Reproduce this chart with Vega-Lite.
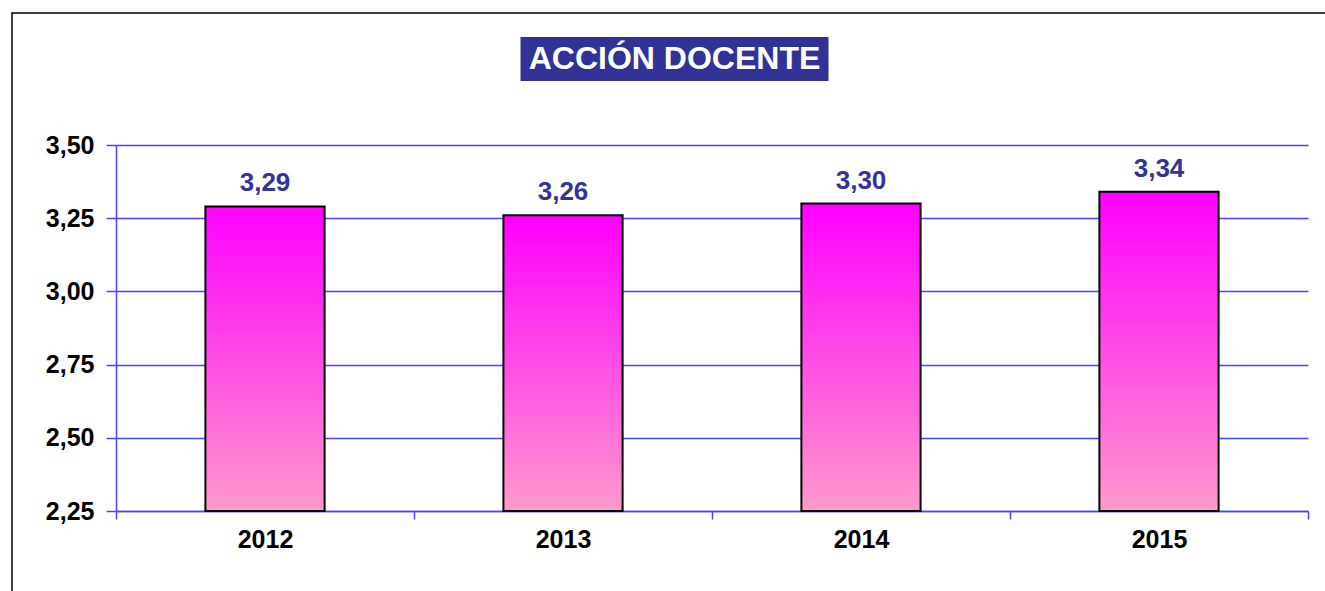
{
  "$schema": "https://vega.github.io/schema/vega-lite/v6.json",
  "width": 1325,
  "height": 580,
  "padding": {"left": 12, "top": 13, "right": 0, "bottom": 0},
  "autosize": {"type": "none"},
  "background": "white",
  "config": {
    "locale": {"number": {"decimal": ",", "thousands": ".", "grouping": [3], "currency": ["", " €"]}},
    "view": {"stroke": "#000000", "strokeWidth": 1.5},
    "font": "Liberation Sans"
  },
  "layer": [
    {
      "data": {"values": [
        {"anio": "2012", "valor": 3.29},
        {"anio": "2013", "valor": 3.26},
        {"anio": "2014", "valor": 3.30},
        {"anio": "2015", "valor": 3.34}
      ]},
      "layer": [
        {
          "mark": {
            "type": "bar",
            "width": {"band": 0.4},
            "fill": {"gradient": "linear", "x1": 0, "y1": 0, "x2": 0, "y2": 1,
              "stops": [{"offset": 0, "color": "#FF00FF"}, {"offset": 1, "color": "#FF99CC"}]},
            "stroke": "#000000",
            "strokeWidth": 2
          },
          "encoding": {
            "x": {
              "field": "anio", "type": "ordinal",
              "scale": {"range": [104, 1296], "paddingInner": 0, "paddingOuter": 0},
              "axis": {
                "title": null, "offset": -82, "grid": false,
                "tickBand": "extent", "tickSize": 8, "tickWidth": 1.5, "tickColor": "#4646FF",
                "domainColor": "#4646FF", "domainWidth": 1.5,
                "labelAngle": 0, "labelFontSize": 25, "labelFontWeight": "bold", "labelColor": "#000000",
                "labelPadding": 8
              }
            },
            "y": {
              "field": "valor", "type": "quantitative",
              "scale": {"domain": [2.25, 3.5], "range": [498, 132], "nice": false, "zero": false},
              "axis": {
                "title": null, "offset": -104,
                "values": [2.25, 2.5, 2.75, 3.0, 3.25, 3.5], "format": ".2f",
                "grid": true, "gridColor": "#4646FF", "gridWidth": 1.5, "gridOpacity": 1,
                "tickSize": 10, "tickWidth": 1.5, "tickColor": "#4646FF",
                "domainColor": "#4646FF", "domainWidth": 1.5,
                "labelFontSize": 25, "labelFontWeight": "bold", "labelColor": "#000000",
                "labelPadding": 12
              }
            },
            "y2": {"datum": 2.25}
          }
        },
        {
          "mark": {"type": "text", "baseline": "alphabetic", "dy": -15, "fontSize": 26, "fontWeight": "bold", "color": "#333399"},
          "encoding": {
            "x": {"field": "anio", "type": "ordinal"},
            "y": {"field": "valor", "type": "quantitative"},
            "text": {"field": "valor", "type": "quantitative", "format": ".2f"}
          }
        }
      ]
    },
    {
      "data": {"values": [{"titulo": "ACCIÓN DOCENTE"}]},
      "layer": [
        {
          "mark": {"type": "bar", "width": 308, "fill": "#323296"},
          "encoding": {
            "y": {"datum": 3.8689, "type": "quantitative"},
            "y2": {"datum": 3.7186}
          }
        },
        {
          "mark": {"type": "text", "baseline": "middle", "align": "center", "fontSize": 32, "fontWeight": "bold", "color": "#FFFFFF"},
          "encoding": {
            "y": {"datum": 3.7937, "type": "quantitative"},
            "text": {"field": "titulo", "type": "nominal"}
          }
        }
      ]
    }
  ]
}
